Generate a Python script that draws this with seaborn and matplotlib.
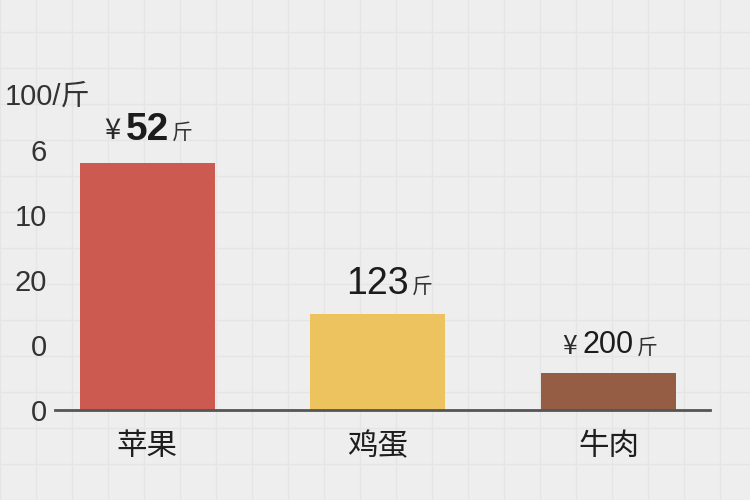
import numpy as np
import pandas as pd
import matplotlib
matplotlib.use("Agg")
import matplotlib.pyplot as plt
import seaborn as sns

# ==========================================
# data
# ==========================================

categories = ["苹果", "鸡蛋", "牛肉"]
values = [76, 29.5, 11.4]
value_prefix = ["¥", "", "¥"]
value_numbers = ["52", "123", "200"]
value_suffix = ["斤", "斤", "斤"]
ytick_values = [0, 20, 40, 60, 80]
ytick_labels = ["0", "0", "20", "10", "6"]
unit_label = "100/斤"

colors = ["#cd5a50", "#ecc35e", "#955e44"]

# ==========================================
# theme
# ==========================================

sns.set_theme(style="white")
plt.rcParams["font.family"] = ["Liberation Sans", "Noto Sans CJK SC", "DejaVu Sans"]

df = pd.DataFrame({"item": categories, "value": values})

fig = plt.figure(figsize=(7.5, 5), dpi=100)
fig.patch.set_facecolor("#eeeeee")

# faint squared paper behind everything
bg = fig.add_axes([0, 0, 1, 1], zorder=0)
bg.set_xlim(0, 750)
bg.set_ylim(0, 500)
bg.set_facecolor("#eeeeee")
bg.set_xticks(np.arange(0, 751, 36))
bg.set_yticks(np.arange(0, 501, 36))
bg.grid(True, color="#e5e5e5", linewidth=1)
bg.tick_params(length=0, labelbottom=False, labelleft=False)
for s in bg.spines.values():
    s.set_visible(False)

ax = fig.add_axes([55 / 750, 90 / 500, 655 / 750, 325 / 500], zorder=1)
ax.set_facecolor("none")

sns.barplot(
    data=df, x="item", y="value", hue="item",
    palette=colors, saturation=1, width=0.585,
    legend=False, ax=ax, linewidth=0, edgecolor="none",
)

ax.set_xlim(-0.4, 2.44)
ax.set_ylim(0, 100)
ax.set_xlabel("")
ax.set_ylabel("")

for side in ["top", "right", "left"]:
    ax.spines[side].set_visible(False)
ax.spines["bottom"].set_color("#555555")
ax.spines["bottom"].set_linewidth(2)

ax.set_yticks(ytick_values)
ax.set_yticklabels(ytick_labels)
ax.tick_params(axis="y", length=0, pad=6, labelsize=21, labelcolor="#333333")
ax.tick_params(axis="x", length=0, pad=16, labelsize=22, labelcolor="#1e1e1e")
for lab in ax.get_xticklabels():
    lab.set_fontweight("medium")

# ==========================================
# value labels above bars
# ==========================================

num_styles = [
    dict(fontsize=28, fontweight="bold", offset=24, prefix_size=21),
    dict(fontsize=27, fontweight="normal", offset=22, prefix_size=21),
    dict(fontsize=22, fontweight="normal", offset=20, prefix_size=19),
]

for i, p in enumerate(ax.patches[:len(values)]):
    st = num_styles[i]
    cx = p.get_x() + p.get_width() / 2
    top = p.get_height()
    num = ax.annotate(
        value_numbers[i], (cx, top), xytext=(0, st["offset"]),
        textcoords="offset points", ha="center", va="center",
        fontsize=st["fontsize"], fontweight=st["fontweight"], color="#1c1c1c",
    )
    if value_prefix[i]:
        ax.annotate(
            value_prefix[i], xy=(0, 0.45), xycoords=num,
            xytext=(-4, 0), textcoords="offset points",
            ha="right", va="center", fontsize=st["prefix_size"], color="#2a2a2a",
            family=["Noto Sans CJK SC", "DejaVu Sans"],
        )
    ax.annotate(
        value_suffix[i], xy=(1, 0.4), xycoords=num,
        xytext=(2, 0), textcoords="offset points",
        ha="left", va="center", fontsize=15, color="#333333",
    )

fig.text(5 / 750, 1 - 97 / 500, unit_label, ha="left", va="center",
         fontsize=21, color="#333333")

fig.savefig("out.png", dpi=100, facecolor=fig.get_facecolor())
